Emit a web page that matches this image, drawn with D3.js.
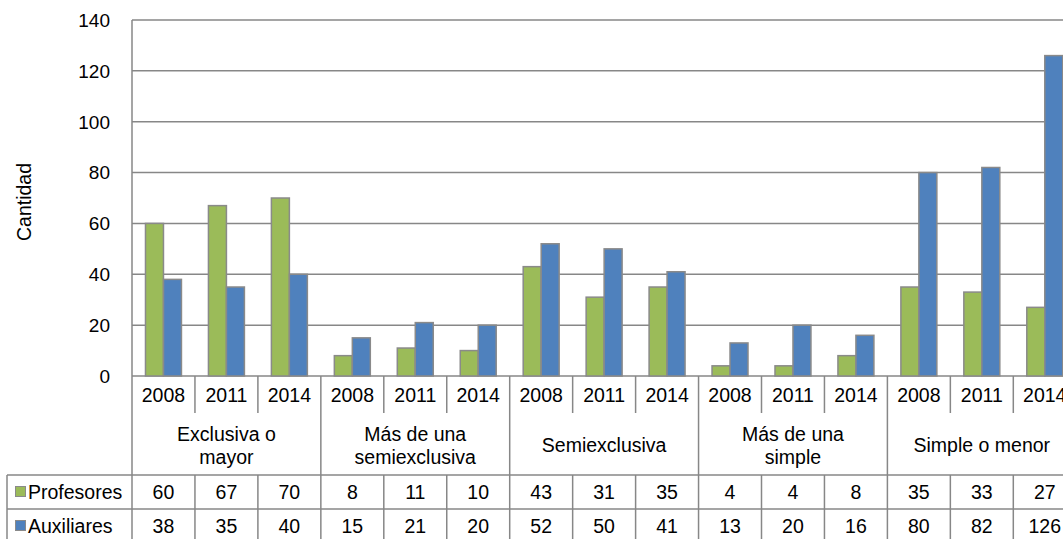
<!DOCTYPE html>
<html><head><meta charset="utf-8">
<script src="https://cdn.jsdelivr.net/npm/d3@7"></script>
<style>body{margin:0;background:#fff;}svg{display:block;font-family:"Liberation Sans",Arial,sans-serif;}</style>
</head><body>
<svg id="c" width="1063" height="539"></svg>
<script>
const categories = [["Exclusiva o", "mayor"], ["Más de una", "semiexclusiva"], ["Semiexclusiva"], ["Más de una", "simple"], ["Simple o menor"]];
const years = ["2008", "2011", "2014"];
const seriesNames = ["Profesores", "Auxiliares"];
const profesores = [60, 67, 70, 8, 11, 10, 43, 31, 35, 4, 4, 8, 35, 33, 27];
const auxiliares = [38, 35, 40, 15, 21, 20, 52, 50, 41, 13, 20, 16, 80, 82, 126];
const yTicks = [0, 20, 40, 60, 80, 100, 120, 140];
const yTitle = "Cantidad";
const colors = ["#9BBB59", "#4F81BD"];

(function () {
const svg = d3.select("#c");
const mLeft = 132, mTop = 20, mBottom = 376, colW = 62.95;
const nCols = categories.length * years.length;
const grid = "#878787";
const fs = 19.5;
const cols = d3.range(nCols);
const x = d3.scaleBand().domain(cols).range([mLeft, mLeft + nCols * colW]);
const xs = d3.scaleBand().domain(seriesNames).range([0, x.bandwidth()]).paddingOuter(0.75);
const y = d3.scaleLinear().domain([0, 140]).range([mBottom, mTop]);

// gridlines
svg.append("g").selectAll("line").data(yTicks).join("line")
  .attr("x1", mLeft).attr("x2", 1063).attr("y1", d => y(d)).attr("y2", d => y(d))
  .attr("stroke", grid).attr("stroke-width", 1.5);
// y labels
svg.append("g").selectAll("text").data(yTicks).join("text")
  .attr("x", 110).attr("y", d => y(d)).attr("dy", "0.36em").attr("text-anchor", "end")
  .attr("font-size", 19).attr("fill", "#000").text(d => d);
svg.append("text").attr("transform", "translate(31,202) rotate(-90)").attr("text-anchor", "middle")
  .attr("font-size", fs).attr("fill", "#000").text(yTitle);

// bars
const data = [profesores, auxiliares];
data.forEach((vals, si) => {
  svg.append("g").selectAll("rect").data(vals).join("rect")
    .attr("x", (d, i) => x(i) + xs(seriesNames[si]))
    .attr("width", xs.bandwidth())
    .attr("y", d => y(d)).attr("height", d => y(0) - y(d))
    .attr("fill", colors[si]).attr("stroke", "#8a8a8a").attr("stroke-width", 1.5);
});

// table lines
const tg = svg.append("g").attr("stroke", grid).attr("stroke-width", 1.5);
const yearBot = 413, catBot = 475, row1Bot = 509, tableBot = 545;
tg.append("line").attr("x1", mLeft).attr("x2", mLeft).attr("y1", mTop).attr("y2", tableBot);
cols.forEach(i => {
  const xx = x(i) + colW;
  const isCat = (i + 1) % years.length === 0;
  tg.append("line").attr("x1", xx).attr("x2", xx).attr("y1", mBottom).attr("y2", isCat ? tableBot : yearBot);
  if (!isCat) tg.append("line").attr("x1", xx).attr("x2", xx).attr("y1", catBot).attr("y2", tableBot);
});
tg.append("line").attr("x1", 7).attr("x2", 1063).attr("y1", catBot).attr("y2", catBot);
tg.append("line").attr("x1", 7).attr("x2", 1063).attr("y1", row1Bot).attr("y2", row1Bot);
tg.append("line").attr("x1", 7).attr("x2", 7).attr("y1", catBot).attr("y2", tableBot);

// year labels
svg.append("g").selectAll("text").data(cols).join("text")
  .attr("x", i => x(i) + colW / 2).attr("y", 395).attr("dy", "0.36em").attr("text-anchor", "middle")
  .attr("font-size", fs).attr("fill", "#000").text(i => years[i % years.length]);
// category labels
categories.forEach((lines, ci) => {
  const cx = x(ci * years.length) + colW * years.length / 2;
  const t = svg.append("text").attr("text-anchor", "middle").attr("font-size", fs).attr("fill", "#000");
  const y0 = lines.length === 1 ? 445 : 434;
  lines.forEach((ln, li) => t.append("tspan").attr("x", cx).attr("y", y0 + li * 23).attr("dy", "0.36em").text(ln));
});
// data rows
const rowY = [492, 526];
data.forEach((vals, si) => {
  svg.append("g").selectAll("text").data(vals).join("text")
    .attr("x", (d, i) => x(i) + colW / 2).attr("y", rowY[si]).attr("dy", "0.36em").attr("text-anchor", "middle")
    .attr("font-size", fs).attr("fill", "#000").text(d => d);
  svg.append("rect").attr("x", 15.5).attr("y", rowY[si] - 5.5).attr("width", 10).attr("height", 10)
    .attr("fill", colors[si]).attr("stroke", "#8a8a8a").attr("stroke-width", 1);
  svg.append("text").attr("x", 28).attr("y", rowY[si]).attr("dy", "0.36em").attr("font-size", fs)
    .attr("fill", "#000").text(seriesNames[si]);
});
})();
</script>
</body></html>
